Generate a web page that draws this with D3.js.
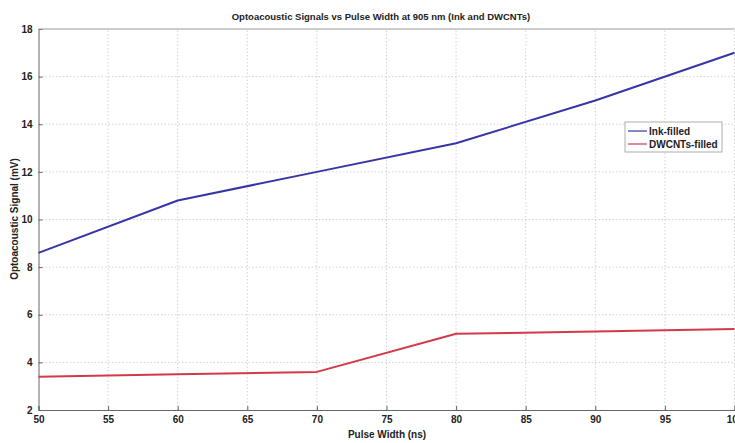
<!DOCTYPE html>
<html>
<head>
<meta charset="utf-8">
<script src="https://cdn.jsdelivr.net/npm/d3@7"></script>
<style>
  html, body { margin: 0; padding: 0; background: #fff; }
  svg { display: block; }
  text { font-family: "Liberation Sans", Arial, sans-serif; fill: #222; }
</style>
</head>
<body>
<svg id="chart" width="735" height="443"></svg>
<script>
// Pulse widths (ns) and measured optoacoustic signal (mV)
const pulseWidth = [50, 60, 70, 80, 90, 100];
const inkFilled = [8.6, 10.8, 12.0, 13.2, 15.0, 17.0];
const dwcntsFilled = [3.4, 3.5, 3.6, 5.2, 5.3, 5.4];
const seriesNames = ["Ink-filled", "DWCNTs-filled"];
const seriesColors = ["#3535a8", "#d23a48"];
const xTicks = [50, 55, 60, 65, 70, 75, 80, 85, 90, 95, 100];
const yTicks = [2, 4, 6, 8, 10, 12, 14, 16, 18];

const svg = d3.select("#chart");
const W = 735, H = 443;
const m = { left: 38.5, right: 0.5, top: 29, bottom: 33 };

const x = d3.scaleLinear().domain([50, 100]).range([m.left, W - m.right]);
const y = d3.scaleLinear().domain([2, 18]).range([H - m.bottom, m.top]);

// dotted grid
const grid = svg.append("g").attr("stroke", "#c8c8c8").attr("stroke-width", 0.8)
  .attr("stroke-dasharray", "1.5,2");
grid.selectAll("line.v").data(xTicks.slice(1)).join("line")
  .attr("x1", d => x(d)).attr("x2", d => x(d))
  .attr("y1", y(2)).attr("y2", y(18));
grid.selectAll("line.h").data(yTicks.slice(1, -1)).join("line")
  .attr("x1", x(50)).attr("x2", x(100))
  .attr("y1", d => y(d)).attr("y2", d => y(d));

// axes (inward ticks)
const xAxis = d3.axisBottom(x).tickValues(xTicks).tickSize(-4).tickPadding(6);
const yAxis = d3.axisLeft(y).tickValues(yTicks).tickSize(-4).tickPadding(6);

const gx = svg.append("g").attr("transform", `translate(0,${y(2)})`).call(xAxis);
const gy = svg.append("g").attr("transform", `translate(${x(50)},0)`).call(yAxis);
[gx, gy].forEach(g => {
  g.select(".domain").attr("stroke", "#666").attr("stroke-width", 1);
  g.selectAll(".tick line").attr("stroke", "#666");
  g.selectAll(".tick text").attr("font-size", 10).attr("font-weight", "bold")
    .attr("fill", "#333").attr("font-family", "'Liberation Sans Narrow', 'Liberation Sans', Arial, sans-serif");
});

// top frame
svg.append("line").attr("x1", x(50)).attr("x2", x(100)).attr("y1", y(18)).attr("y2", y(18))
  .attr("stroke", "#999").attr("stroke-width", 1);

// series lines
const line = d3.line().x((d, i) => x(pulseWidth[i])).y(d => y(d));
[inkFilled, dwcntsFilled].forEach((vals, k) => {
  svg.append("path").datum(vals).attr("d", line)
    .attr("fill", "none").attr("stroke", seriesColors[k]).attr("stroke-width", 2)
    .attr("stroke-linejoin", "round");
});

// legend
const lg = svg.append("g").attr("transform", "translate(625,122)");
lg.append("rect").attr("width", 97).attr("height", 30)
  .attr("fill", "#fff").attr("stroke", "#999").attr("stroke-width", 0.8);
seriesNames.forEach((name, k) => {
  const yy = 9 + k * 13;
  lg.append("line").attr("x1", 3).attr("x2", 22).attr("y1", yy).attr("y2", yy)
    .attr("stroke", seriesColors[k]).attr("stroke-width", 1.2);
  lg.append("text").attr("x", 24).attr("y", yy + 3.5).attr("font-size", 10)
    .attr("font-weight", "bold").attr("fill", "#333").text(name);
});

// title and axis labels
svg.append("text").attr("x", 381).attr("y", 20).attr("text-anchor", "middle")
  .attr("font-size", 9.5).attr("font-weight", "bold").attr("fill", "#333")
  .text("Optoacoustic Signals vs Pulse Width at 905 nm (Ink and DWCNTs)");
svg.append("text").attr("x", 387).attr("y", 438).attr("text-anchor", "middle")
  .attr("font-size", 10).attr("font-weight", "bold").attr("fill", "#333")
  .text("Pulse Width (ns)");
svg.append("text").attr("transform", "translate(18,219) rotate(-90)")
  .attr("text-anchor", "middle").attr("font-size", 10).attr("font-weight", "bold").attr("fill", "#333")
  .text("Optoacoustic Signal (mV)");
</script>
</body>
</html>
